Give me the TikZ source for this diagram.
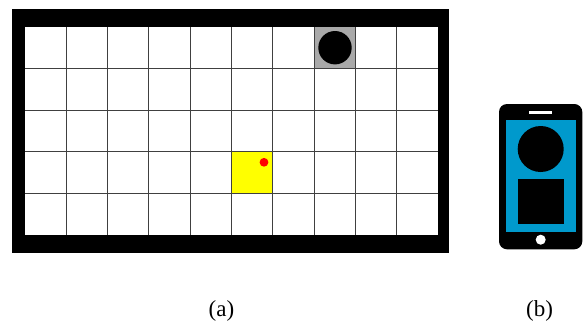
\documentclass[tikz,border=0pt]{standalone}
\usepackage{fontspec}
\setmainfont{Liberation Serif}
\definecolor{screenblue}{HTML}{0099CC}
\definecolor{cellgray}{HTML}{A9A9A9}
\definecolor{celyellow}{rgb}{1,1,0}
\definecolor{dotred}{rgb}{1,0,0}
\tikzset{
  gridline/.style={draw=black!75,line width=1pt},
  solidblack/.style={fill=black,draw=none},
  caption/.style={font=\fontsize{23}{27}\selectfont,inner sep=0pt,text=black}
}
\begin{document}
\begin{tikzpicture}[x=1pt,y=-1pt]
\useasboundingbox (0,0) rectangle (586,322);
\fill[white] (0,0) rectangle (586,322);
% walls
\fill[solidblack] (12,9.3) rectangle (449.3,252.7);
\fill[white] (25,27) rectangle (438,235);
% coloured cells
\fill[celyellow] (231.5,151.8) rectangle (272.8,193.4);
\fill[cellgray] (314.1,27) rectangle (355.4,68.6);
% grid
\foreach \i in {1,...,9} \draw[gridline] ({25+41.3*\i},27) -- ({25+41.3*\i},235);
\foreach \j in {1,...,4} \draw[gridline] (25,{27+41.6*\j}) -- (438,{27+41.6*\j});
% items
\fill[solidblack] (335,47.7) circle (16.7);
\fill[dotred] (264,162.3) circle (4.4);
% phone
\fill[solidblack,rounded corners=8pt] (499,104) rectangle (582.3,249.3);
\fill[screenblue] (506,120) rectangle (576,231.7);
\fill[white] (529.3,111) rectangle (552.3,113.7);
\fill[solidblack] (540.7,149) circle (23);
\fill[solidblack] (518,178.7) rectangle (563.7,224.3);
\fill[white] (540.7,239.7) circle (5);
% captions
\node[caption] (capa) at (221.5,310.5) {(a)};
\node[caption] (capb) at (539.5,310.5) {(b)};
\end{tikzpicture}
\end{document}
